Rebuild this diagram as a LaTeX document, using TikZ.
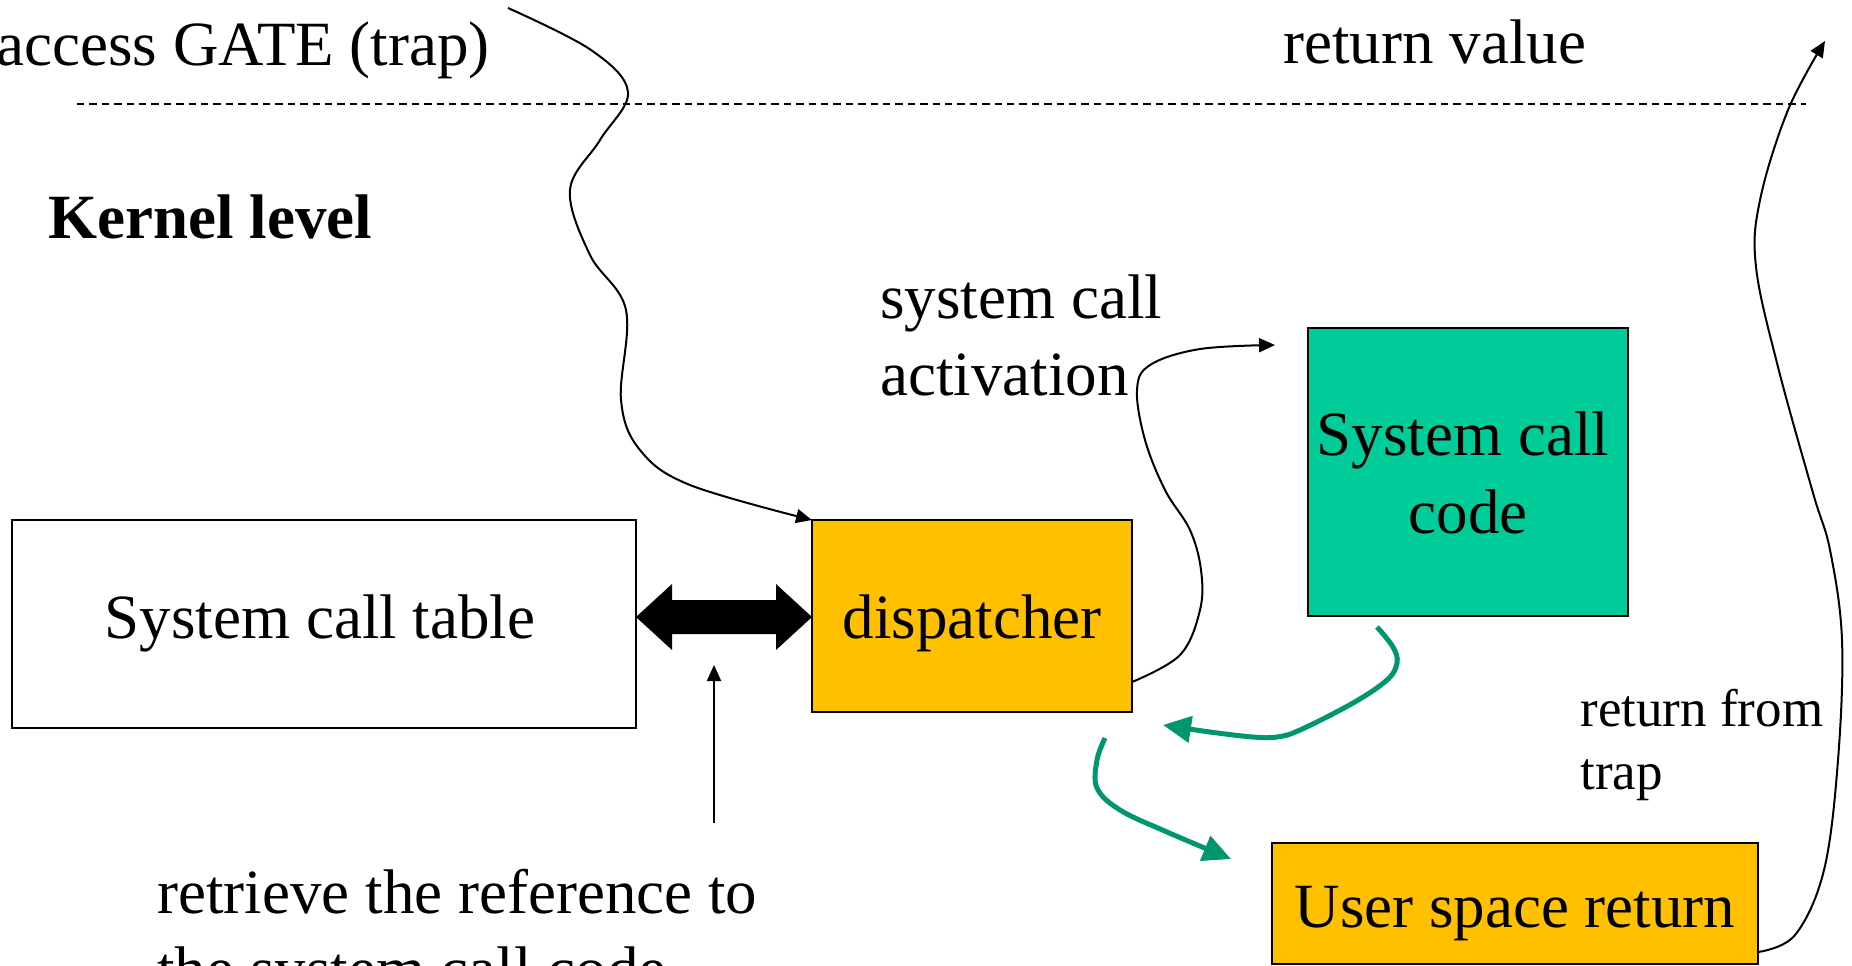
\documentclass[tikz,border=0pt]{standalone}
\usepackage{fontspec}
\setmainfont{Liberation Serif}
\usetikzlibrary{arrows.meta,calc}
\definecolor{gold}{RGB}{255,192,0}
\definecolor{tealbox}{RGB}{0,204,153}
\definecolor{grn}{RGB}{0,150,110}
\begin{document}
\begin{tikzpicture}[x=0.5pt,y=-0.5pt,
  box/.style={draw,line width=1.2pt,inner sep=0pt,outer sep=0pt},
  big/.style={font=\fontsize{31.5}{38}\selectfont, inner sep=0pt, anchor=base west},
  bigc/.style={big, anchor=base},
  small/.style={font=\fontsize{26.5}{32}\selectfont, inner sep=0pt, anchor=base west},
  thinarrow/.style={line width=1pt, -{Triangle[length=8pt,width=7pt]}},
  greenarrow/.style={draw=grn, line width=2.5pt, -{Triangle[length=14pt,width=13pt]}}
]
\useasboundingbox (0,0) rectangle (1852,965);

% level separator
\draw[line width=1.2pt, dash pattern=on 3.7pt off 2.5pt] (77,104) -- (1806,104);

% texts
\node[big] (gate) at (-4,65) {access GATE (trap)};
\node[big] (retval) at (1283,63) {return value};
\node[big, font=\fontsize{31.5}{38}\selectfont\bfseries] (kernel) at (48,238) {Kernel level};
\node[big] (act1) at (880,318) {system call};
\node[big] (act2) at (880,395) {activation};
\node[small] (rft1) at (1580,726) {return from};
\node[small] (rft2) at (1580,789) {trap};
\node[big] (ret1) at (157,913) {retrieve the reference to};
\node[big] (ret2) at (157,990) {the system call code};

% boxes
\node[box, minimum width=312pt, minimum height=104pt] (table) at (324,624) {};
\node[bigc] (tablet) at (320,638) {System call table};
\node[box, fill=gold, minimum width=160pt, minimum height=96pt] (disp) at (972,616) {};
\node[bigc] (dispt) at (972,638) {dispatcher};
\node[box, fill=tealbox, minimum width=160pt, minimum height=144pt] (code) at (1468,472) {};
\node[bigc] (codet1) at (1463,455) {System call};
\node[bigc] (codet2) at (1468,533) {code};
\node[box, fill=gold, minimum width=243pt, minimum height=60.5pt] (usr) at (1515,903.5) {};
\node[bigc] (usrt) at (1515,927) {User space return};

% double arrow between table and dispatcher
\fill ($(table.east |- disp.west)+(0,1)$) -- ++(36,-33) -- ++(0,16) -- ++(104,0) -- ++(0,-16)
  -- ++(36,33) -- ++(-36,33) -- ++(0,-16) -- ++(-104,0) -- ++(0,16) -- cycle;

% retrieve arrow
\coordinate (rbot) at (714,823);
\coordinate (rtop) at (714,665);
\draw[thinarrow] (rbot) -- (rtop);

% access gate curve
\coordinate (gstart) at (508,8);
\draw[thinarrow] plot[smooth, tension=0.6] coordinates {(gstart) (591,50) (628,92) (600,140) (570,190) (590,255) (626,310) (621,400) (640,450) (690,485) (disp.north west)};

% activation curve
\coordinate (aend) at (1275,345);
\draw[thinarrow] plot[smooth, tension=0.6] coordinates {($(disp.east)+(0,66)$) (1180,655) (1200,610) (1201,570) (1190,530) (1165,490) (1145,440) (1137,390) (1150,365) (1200,349) (aend)};

% return from trap curve
\coordinate (tend) at (1825,41);
\draw[thinarrow] plot[smooth, tension=0.6] coordinates {($(usr.east)+(0,48.5)$) (1795,935) (1824,870) (1838,760) (1842,640) (1830,550) (1813,493) (1778,367) (1756,267) (1760,200) (1788,110) (tend)};

% green arrows
\coordinate (g1s) at (1377,627);
\coordinate (g1e) at (1163,725);
\draw[greenarrow] plot[smooth, tension=0.6] coordinates {(g1s) (1393,647) (1397,663) (1387,680) (1353,703) (1300,730) (1277,737) (1253,737) (1210,732) (g1e)};
\coordinate (g2s) at (1105,738);
\coordinate (g2e) at (1231,859);
\draw[greenarrow] plot[smooth, tension=0.6] coordinates {(g2s) (1097,760) (1097,788) (1120,810) (1167,832) (g2e)};
\end{tikzpicture}
\end{document}
